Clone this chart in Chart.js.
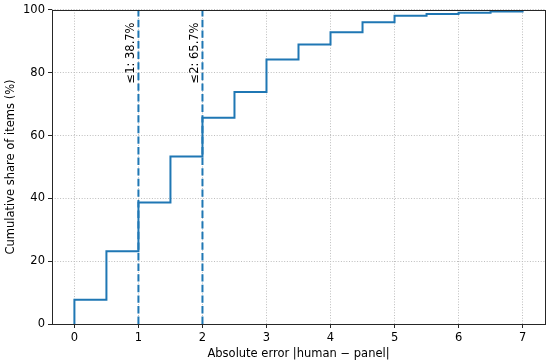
<!DOCTYPE html>
<html>
<head>
<meta charset="utf-8">
<script src="https://cdn.jsdelivr.net/npm/chart.js@4.4.0/dist/chart.umd.min.js"></script>
<style>
  html, body { margin: 0; padding: 0; background: #fff; }
  #wrap { width: 550px; height: 364px; }
</style>
</head>
<body>
<div id="wrap"><canvas id="ecdfChart"></canvas></div>
<script>
// absolute error levels and the cumulative share of items at or below each one (%)
const errorLevels = [0, 0.5, 1, 1.5, 2, 2.5, 3, 3.5, 4, 4.5, 5, 5.5, 6, 6.5, 7];
const cumulativeShare = [7.7, 23.2, 38.7, 53.3, 65.7, 73.9, 84.2, 89.0, 92.9, 96.1, 98.1, 98.7, 99.1, 99.5, 100];
const thresholds = [1, 2];
const xTicks = [0, 1, 2, 3, 4, 5, 6, 7];
const yTicks = [0, 20, 40, 60, 80, 100];

const blue = "#1f77b4";
const fontFamily = "'DejaVu Sans', sans-serif";
const fontSize = 11.5;

// step line starts at 0 before the first error level
const stepPoints = [{ x: errorLevels[0], y: 0 }].concat(
  errorLevels.map((e, i) => ({ x: e, y: cumulativeShare[i] }))
);

const thresholdSets = thresholds.map(t => ({
  data: [{ x: t, y: 0 }, { x: t, y: 100 }],
  borderColor: blue,
  borderWidth: 2,
  borderDash: [7.4, 3.2],
  pointRadius: 0,
  fill: false
}));

function shareAt(t) {
  return cumulativeShare[errorLevels.indexOf(t)];
}

// frame around the plot + rotated threshold labels
const extras = {
  id: "extras",
  afterDatasetsDraw(chart) {
    const { ctx, chartArea: a, scales } = chart;
    ctx.save();
    ctx.font = fontSize + "px " + fontFamily;
    ctx.fillStyle = "#000";
    ctx.textAlign = "right";
    ctx.textBaseline = "bottom";
    thresholds.forEach(t => {
      const px = scales.x.getPixelForValue(t) - 2;
      const py = scales.y.getPixelForValue(96);
      ctx.save();
      ctx.translate(px, py);
      ctx.rotate(-Math.PI / 2);
      ctx.fillText("≤" + t + ": " + shareAt(t).toFixed(1) + "%", 0, 0);
      ctx.restore();
    });
    ctx.strokeStyle = "#262626";
    ctx.lineWidth = 1;
    ctx.strokeRect(Math.round(a.left) + 0.5, Math.round(a.top) + 0.5,
      Math.round(a.right - a.left), Math.round(a.bottom - a.top));
    ctx.restore();
  }
};

const gridOpts = { color: "#bdbdbd", lineWidth: 1, tickLength: 4, tickColor: "#262626", tickBorderDash: [] };
const tickFont = { family: fontFamily, size: fontSize };

new Chart(document.getElementById("ecdfChart"), {
  type: "line",
  data: {
    datasets: [{
      data: stepPoints,
      stepped: "before",
      borderColor: blue,
      borderWidth: 2,
      pointRadius: 0,
      fill: false
    }].concat(thresholdSets)
  },
  options: {
    responsive: true,
    maintainAspectRatio: false,
    animation: false,
    layout: { padding: { top: 8, right: 5, left: 0, bottom: 0 } },
    plugins: { legend: { display: false }, tooltip: { enabled: false } },
    scales: {
      x: {
        type: "linear",
        min: -0.35,
        max: 7.35,
        afterFit: s => { s.height = 40; },
        afterBuildTicks: s => { s.ticks = xTicks.map(v => ({ value: v })); },
        ticks: { color: "#000", font: tickFont, padding: 3, maxRotation: 0 },
        grid: gridOpts,
        border: { display: false, dash: [1, 1.7] },
        title: {
          display: true,
          text: "Absolute error |human − panel|",
          color: "#000",
          font: tickFont,
          padding: { top: 0, bottom: 3 }
        }
      },
      y: {
        min: 0,
        max: 100,
        afterFit: s => { s.width = 52; },
        afterBuildTicks: s => { s.ticks = yTicks.map(v => ({ value: v })); },
        ticks: { color: "#000", font: tickFont, padding: 3 },
        grid: gridOpts,
        border: { display: false, dash: [1, 1.7] },
        title: {
          display: true,
          text: "Cumulative share of items (%)",
          color: "#000",
          font: tickFont,
          padding: { top: 4, bottom: 0 }
        }
      }
    }
  },
  plugins: [extras]
});
</script>
</body>
</html>
